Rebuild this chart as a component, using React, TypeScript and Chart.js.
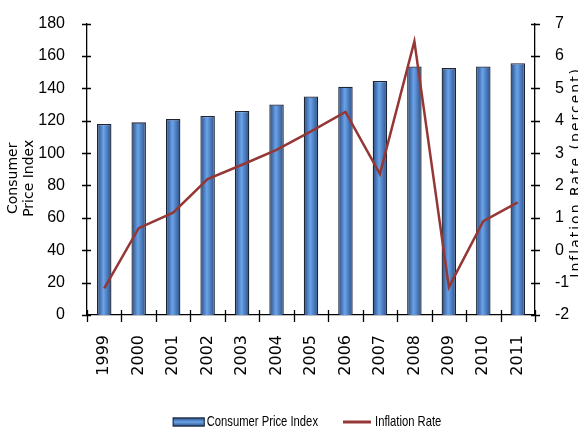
import React, { useEffect, useRef } from 'react';
import { Chart, registerables } from 'chart.js';

Chart.register(...registerables);

const years = ['1999', '2000', '2001', '2002', '2003', '2004', '2005', '2006', '2007', '2008', '2009', '2010', '2011'];
const cpiValues = [118, 119, 121, 123, 126, 130, 135, 141, 144.5, 153.5, 152.5, 153.5, 155.5];
const inflationValues = [-1.18, 0.68, 1.16, 2.2, 2.64, 3.1, 3.67, 4.27, 2.36, 6.45, -1.14, 0.9, 1.48];
const leftTitleLines = ['Consumer', 'Price Index'];
const rightTitle = 'Inflation Rate (percent)';

const sans = "'Liberation Sans', Arial, sans-serif";
const wide = "'DejaVu Sans', Verdana, sans-serif";
const BAR_PCT = 0.42;
const CPI_COLOR = '#4a7fc4';
const LINE_COLOR = '#953735';

const axisDecor = {
  id: 'axisDecor',
  afterDraw(chart: any) {
    const { ctx, chartArea, scales } = chart;
    ctx.save();
    ctx.strokeStyle = '#000';
    ctx.lineWidth = 1.3;
    ctx.beginPath();
    scales.y.ticks.forEach((_t: any, i: number) => {
      const py = Math.round(scales.y.getPixelForTick(i)) + 0.5;
      ctx.moveTo(chartArea.left - 5, py);
      ctx.lineTo(chartArea.left + 4, py);
    });
    scales.y1.ticks.forEach((_t: any, i: number) => {
      const py = Math.round(scales.y1.getPixelForTick(i)) + 0.5;
      ctx.moveTo(chartArea.right - 4, py);
      ctx.lineTo(chartArea.right + 5, py);
    });
    for (let i = 0; i <= years.length; i++) {
      const px = Math.round(scales.x.getPixelForValue(i - 0.5)) + 0.5;
      ctx.moveTo(px, chartArea.bottom - 5);
      ctx.lineTo(px, chartArea.bottom + 7);
    }
    ctx.stroke();

    // axis titles
    ctx.fillStyle = '#000';
    ctx.font = `14px ${wide}`;
    ctx.textAlign = 'center';
    ctx.textBaseline = 'alphabetic';
    const cy = (chartArea.top + chartArea.bottom) / 2 + 9;
    ctx.save();
    ctx.translate(17, cy);
    ctx.rotate(-Math.PI / 2);
    ctx.fillText(leftTitleLines[0], 0, 0);
    ctx.fillText(leftTitleLines[1], 0, 16);
    ctx.restore();

    ctx.save();
    ctx.translate(chart.width + 2, cy - 6);
    ctx.rotate(-Math.PI / 2);
    try { (ctx as any).letterSpacing = '2px'; } catch (e) {}
    ctx.fillText(rightTitle, 0, 0);
    ctx.restore();

    // legend
    const ds = chart.data.datasets;
    const sx = 0.75;
    ctx.font = `15px ${sans}`;
    const tw1 = ctx.measureText(ds[0].label).width * sx;
    const tw2 = ctx.measureText(ds[1].label).width * sx;
    const rectW = 32, lineW = 28, gapText = 2, gapItem = 25;
    const total = rectW + gapText + tw1 + gapItem + lineW + gapText + 2 + tw2;
    let x = (chartArea.left + chartArea.right) / 2 - 4 - total / 2;
    const ly = chart.height - 10;
    const g = ctx.createLinearGradient(0, ly - 4.5, 0, ly + 4.5);
    g.addColorStop(0, '#27487c');
    g.addColorStop(0.5, '#6aa3ea');
    g.addColorStop(1, '#27487c');
    ctx.fillStyle = g;
    ctx.fillRect(x, ly - 4.5, rectW, 9);
    ctx.strokeStyle = '#1b2536';
    ctx.lineWidth = 1;
    ctx.strokeRect(x + 0.5, ly - 4, rectW - 1, 8);
    x += rectW + gapText;
    ctx.fillStyle = '#000';
    ctx.textAlign = 'left';
    ctx.textBaseline = 'middle';
    ctx.save();
    ctx.translate(x, ly);
    ctx.scale(sx, 1);
    ctx.fillText(ds[0].label, 0, 0);
    ctx.restore();
    x += tw1 + gapItem;
    ctx.strokeStyle = LINE_COLOR;
    ctx.lineWidth = 3;
    ctx.beginPath();
    ctx.moveTo(x, ly);
    ctx.lineTo(x + lineW, ly);
    ctx.stroke();
    x += lineW + gapText + 2;
    ctx.save();
    ctx.translate(x, ly);
    ctx.scale(sx, 1);
    ctx.fillText(ds[1].label, 0, 0);
    ctx.restore();

    ctx.restore();
  },
};

export default function App() {
  const ref = useRef<HTMLCanvasElement | null>(null);

  useEffect(() => {
    if (!ref.current) return;
    const chart = new Chart(ref.current, {
      data: {
        labels: years,
        datasets: [
          {
            type: 'bar',
            label: 'Consumer Price Index',
            data: cpiValues,
            yAxisID: 'y',
            order: 2,
            barPercentage: BAR_PCT,
            categoryPercentage: 1,
            borderColor: '#1b2536',
            borderWidth: 1.3,
            backgroundColor: (c: any) => {
              const ch = c.chart;
              const xs = ch.scales && ch.scales.x;
              if (!xs || c.dataIndex === undefined || !xs.width) return CPI_COLOR;
              const cx = xs.getPixelForValue(c.dataIndex);
              const half = (xs.width / years.length) * BAR_PCT / 2;
              const g = ch.ctx.createLinearGradient(cx - half, 0, cx + half, 0);
              g.addColorStop(0, '#27487c');
              g.addColorStop(0.45, '#6aa3ea');
              g.addColorStop(1, '#2a4e86');
              return g;
            },
          } as any,
          {
            type: 'line',
            label: 'Inflation Rate',
            data: inflationValues,
            yAxisID: 'y1',
            order: 1,
            borderColor: LINE_COLOR,
            backgroundColor: LINE_COLOR,
            borderWidth: 2.5,
            pointRadius: 0,
            tension: 0,
          } as any,
        ],
      },
      options: {
        animation: false,
        responsive: true,
        maintainAspectRatio: false,
        layout: { padding: { top: 12, bottom: 57, left: 0, right: 0 } },
        plugins: {
          tooltip: { enabled: false },
          legend: { display: false },
        },
        scales: {
          x: {
            offset: true,
            grid: { display: false, offset: true },
            border: { display: true, color: '#000', width: 1.3 },
            ticks: {
              minRotation: 90,
              maxRotation: 90,
              autoSkip: false,
              padding: 12,
              color: '#000',
              font: { family: wide, size: 16 },
            },
            afterFit: (s: any) => { s.height = 60; },
          },
          y: {
            position: 'left',
            min: 0,
            max: 180,
            grid: { display: false },
            border: { display: true, color: '#000', width: 1.3 },
            ticks: { stepSize: 20, padding: 14, color: '#000', font: { family: sans, size: 16 } },
            afterFit: (s: any) => { s.width = 87; },
          },
          y1: {
            position: 'right',
            min: -2,
            max: 7,
            grid: { display: false },
            border: { display: true, color: '#000', width: 1.3 },
            ticks: { stepSize: 1, padding: 12, color: '#000', font: { family: sans, size: 16 } },
            afterFit: (s: any) => { s.width = 43; },
          },
        },
      },
      plugins: [axisDecor],
    });
    return () => chart.destroy();
  }, []);

  return (
    <div style={{ position: 'fixed', left: 0, top: 0, width: 578, height: 432, background: '#fff' }}>
      <canvas ref={ref} />
    </div>
  );
}
